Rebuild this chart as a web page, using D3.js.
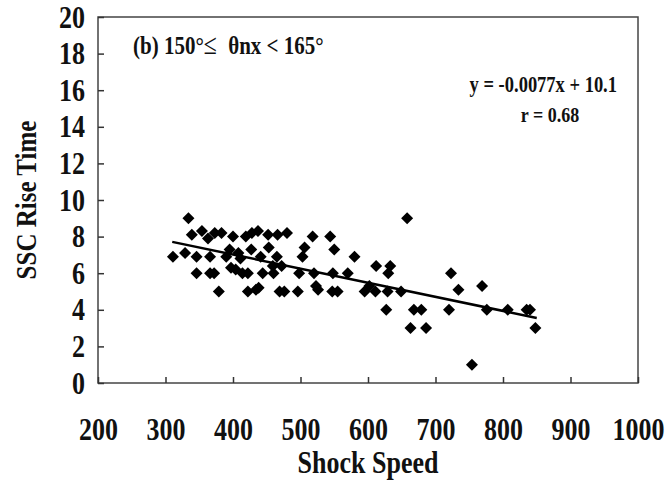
<!DOCTYPE html>
<html>
<head>
<meta charset="utf-8">
<script src="https://cdn.jsdelivr.net/npm/d3@7"></script>
<style>
  body { margin: 0; background: #fff; }
  text { font-family: "Liberation Serif", "Times New Roman", serif; font-weight: bold; fill: #111; }
</style>
</head>
<body>
<div id="chart"></div>
<script>
// shock speed vs SSC rise time
var speed = [311, 329, 334, 339, 346, 346, 354, 363, 366, 366, 372, 373, 379, 383, 390, 395, 397, 400,
  404, 408, 411, 414, 419, 422, 422, 427, 428, 434, 437, 438, 441, 444, 452, 453, 459, 460, 465, 466,
  469, 472, 476, 480, 496, 498, 503, 506, 518, 520, 523, 526, 544, 547, 548, 550, 555, 570, 580, 595,
  602, 611, 612, 627, 629, 630, 633, 649, 658, 663, 668, 679, 686, 720, 723, 734, 754, 769, 776, 807,
  835, 840, 848];
var riseTime = [6.9, 7.1, 9.0, 8.1, 6.9, 6.0, 8.3, 7.9, 6.9, 6.0, 6.0, 8.2, 5.0, 8.2, 6.9, 7.3, 6.3, 8.0,
  6.2, 7.1, 6.8, 6.0, 8.0, 5.0, 6.0, 7.3, 8.2, 5.1, 8.3, 5.2, 6.9, 6.0, 8.1, 7.4, 6.4, 6.0, 6.9, 8.1,
  5.0, 6.4, 5.0, 8.2, 5.0, 6.0, 6.9, 7.4, 8.0, 6.0, 5.3, 5.1, 8.0, 5.0, 6.0, 7.3, 5.0, 6.0, 6.9, 5.0,
  5.3, 5.0, 6.4, 4.0, 5.0, 6.0, 6.4, 5.0, 9.0, 3.0, 4.0, 4.0, 3.0, 4.0, 6.0, 5.1, 1.0, 5.3, 4.0, 4.0,
  4.0, 4.0, 3.0];

// linear fit shown on the chart
var fitSlope = -0.0077;
var fitIntercept = 10.1;
var fitRange = [310, 850];

var xTicks = [200, 300, 400, 500, 600, 700, 800, 900, 1000];
var yTicks = [0, 2, 4, 6, 8, 10, 12, 14, 16, 18, 20];

var svgWidth = 667, svgHeight = 485;
var margin = { top: 17, right: 29, bottom: 102, left: 98 };
var width = svgWidth - margin.left - margin.right;
var height = svgHeight - margin.top - margin.bottom;

// the original lettering is taller than normal Times, stretch it a bit
var stretch = 1.2;

var svg = d3.select("#chart").append("svg")
  .attr("width", svgWidth)
  .attr("height", svgHeight);

var chartGroup = svg.append("g")
  .attr("transform", `translate(${margin.left}, ${margin.top})`);

var xScale = d3.scaleLinear().domain([200, 1000]).range([0, width]);
var yScale = d3.scaleLinear().domain([0, 20]).range([height, 0]);

// frame
chartGroup.append("rect")
  .attr("width", width)
  .attr("height", height)
  .attr("fill", "none")
  .attr("stroke", "#444")
  .attr("stroke-width", 1.5);

// x axis, ticks pointing inward
var xAxis = chartGroup.append("g")
  .attr("transform", `translate(0, ${height})`)
  .call(d3.axisBottom(xScale).tickValues(xTicks).tickSize(-6).tickFormat(d3.format("d")));
xAxis.select(".domain").remove();
xAxis.selectAll("line").attr("stroke", "#333").attr("stroke-width", 1.5);
xAxis.selectAll("text")
  .attr("font-size", "26px").attr("fill", "#111")
  .attr("font-family", "Liberation Serif").attr("font-weight", "bold")
  .attr("y", 0).attr("dy", 0)
  .attr("transform", `translate(0, 57) scale(1, ${stretch})`);

var yAxis = chartGroup.append("g")
  .call(d3.axisLeft(yScale).tickValues(yTicks).tickSize(-6));
yAxis.select(".domain").remove();
yAxis.selectAll("line").attr("stroke", "#333").attr("stroke-width", 1.5);
yAxis.selectAll("text")
  .attr("font-size", "26px").attr("fill", "#111")
  .attr("font-family", "Liberation Serif").attr("font-weight", "bold")
  .attr("x", 0).attr("dy", 0)
  .attr("transform", `translate(-13, 10) scale(1, ${stretch})`);

// regression line
chartGroup.append("line")
  .attr("x1", xScale(fitRange[0]))
  .attr("y1", yScale(fitSlope * fitRange[0] + fitIntercept))
  .attr("x2", xScale(fitRange[1]))
  .attr("y2", yScale(fitSlope * fitRange[1] + fitIntercept))
  .attr("stroke", "#000")
  .attr("stroke-width", 2.5);

// diamonds
var diamond = d3.symbol().type(d3.symbolSquare).size(72);
chartGroup.append("g")
  .selectAll("path")
  .data(speed)
  .enter()
  .append("path")
  .attr("d", diamond)
  .attr("transform", (d, i) => `translate(${xScale(d)}, ${yScale(riseTime[i])}) rotate(45)`)
  .attr("fill", "#000");

// labels
function label(x, y, size, anchor, str, rotate) {
  var t = `translate(${x}, ${y})` + (rotate ? ` rotate(${rotate})` : "") + ` scale(1, ${stretch})`;
  return chartGroup.append("text")
    .attr("transform", t)
    .attr("text-anchor", anchor)
    .attr("font-size", size + "px")
    .style("white-space", "pre")
    .text(str);
}

var panel = label(35, 37, 21, "start", "");
panel.append("tspan").text("(b) 150°");
panel.append("tspan").attr("font-size", "24px").attr("font-weight", "normal").text("≤ ");
panel.append("tspan").text(" θnx < 165°");
label(519, 75, 18.5, "end", "y = -0.0077x + 10.1");
label(452, 105, 18, "middle", "r = 0.68");
label(width / 2, height + 90, 26, "middle", "Shock Speed");
label(-62, height / 2, 25, "middle", "SSC Rise Time", -90);
</script>
</body>
</html>
